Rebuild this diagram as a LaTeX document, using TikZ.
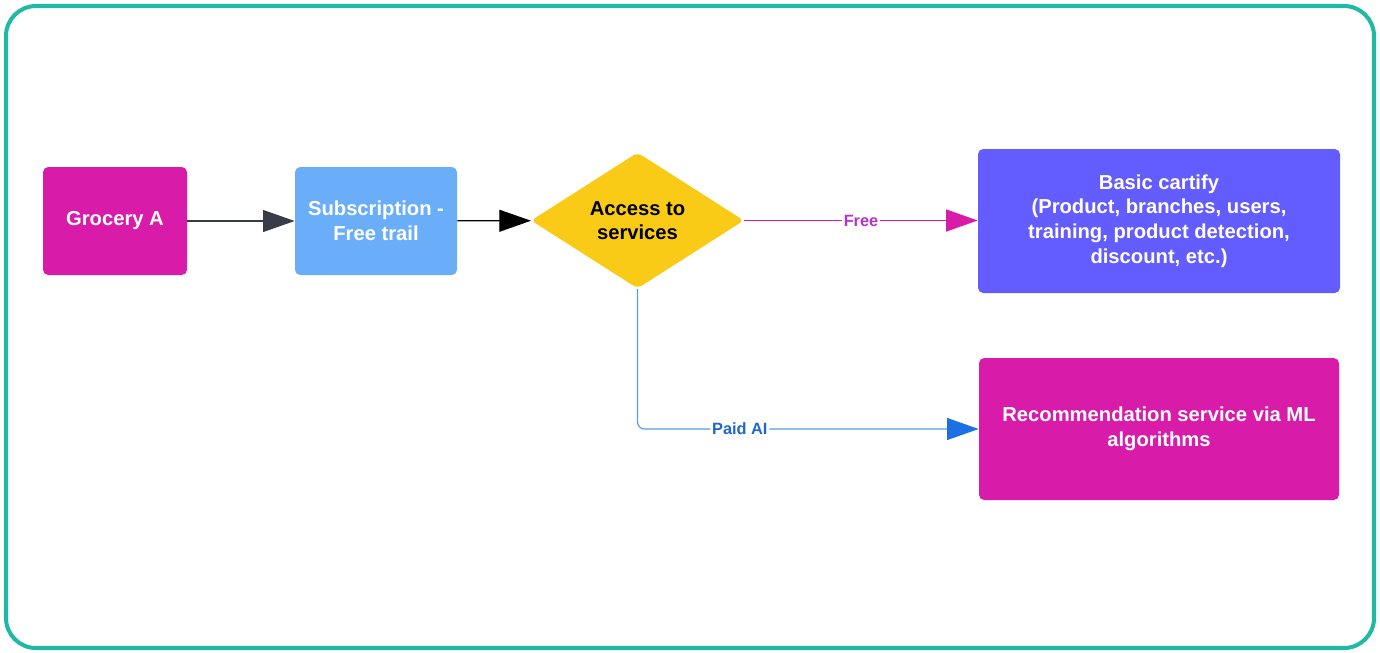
\documentclass[tikz,border=0pt]{standalone}
\usepackage{fontspec}
\setmainfont{Liberation Sans}
\usepackage{tikz}
\usetikzlibrary{shapes.geometric, arrows.meta, positioning, calc}
\usepackage{xcolor}
\definecolor{framecolor}{RGB}{32,186,164}
\definecolor{grocerycolor}{RGB}{216,27,168}
\definecolor{subcolor}{RGB}{106,174,250}
\definecolor{decisioncolor}{RGB}{249,203,22}
\definecolor{basiccolor}{RGB}{99,93,255}
\definecolor{darkarrow}{RGB}{55,60,70}
\definecolor{freelabel}{RGB}{178,52,205}
\definecolor{paidline}{RGB}{88,158,225}
\definecolor{paidcolor}{RGB}{28,112,228}
\definecolor{paidlabel}{RGB}{30,104,205}

\begin{document}
\begin{tikzpicture}[
    block/.style={rectangle, rounded corners=3pt, text=white, align=center, inner sep=4pt, font=\bfseries\fontsize{11.5}{14}\selectfont},
    decision/.style={diamond, fill=decisioncolor, rounded corners=3pt, aspect=1.56, inner sep=0pt, minimum width=4.26cm, minimum height=2.72cm, align=center, font=\bfseries\fontsize{11.5}{14}\selectfont},
    arrow/.style={-{Triangle[length=18pt, width=12.5pt]}, line width=0.7pt},
    edgelabel/.style={fill=white, inner sep=1pt, font=\bfseries\fontsize{9.3}{11}\selectfont}
]
\useasboundingbox (0,0) rectangle (27.6,-13.04);
\draw[framecolor, line width=2.3pt, rounded corners=0.6cm] (0.12,-0.12) rectangle (27.48,-12.96);

\node[block, fill=grocerycolor, minimum width=2.88cm, minimum height=2.16cm] (grocery) at (2.30,-4.42) {\raisebox{-2pt}{Grocery A}};
\node[block, fill=subcolor, minimum width=3.24cm, minimum height=2.16cm] (sub) at (7.52,-4.42) {Subscription -\\Free trail};
\node[decision] (access) at (12.75,-4.41) {Access to\\services};
\node[block, fill=basiccolor, minimum width=7.24cm, minimum height=2.88cm] (basic) at (23.18,-4.42) {Basic cartify\\(Product, branches, users,\\training, product detection,\\discount, etc.)};
\node[block, fill=grocerycolor, minimum width=7.2cm, minimum height=2.84cm] (rec) at (23.18,-8.58) {Recommendation service via ML\\algorithms};

\draw[arrow, darkarrow] (grocery) -- (sub);
\draw[arrow, black] (sub) -- (access);
\draw[arrow, grocerycolor, line width=1pt] (access.east) -- node[edgelabel, text=freelabel] {Free} (basic.west |- access.east);
\draw[arrow, paidline, -{Triangle[length=18pt, width=12.5pt, fill=paidcolor, color=paidcolor]}, rounded corners=4pt] (access.south) |- node[edgelabel, text=paidlabel, pos=0.65] {Paid AI} (rec.west);
\end{tikzpicture}
\end{document}
